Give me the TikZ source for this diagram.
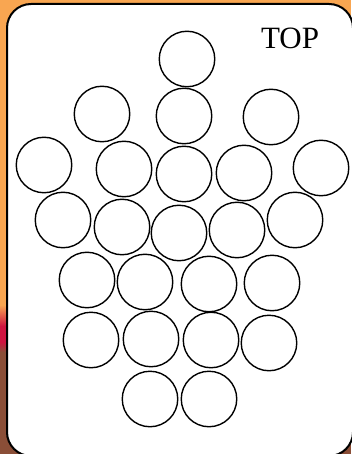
\documentclass[tikz,border=0pt]{standalone}
\usepackage{fontspec}
\setmainfont{Liberation Serif}
\usetikzlibrary{positioning}

\definecolor{bgorange}{HTML}{F9A651}
\definecolor{bgred}{HTML}{CF1440}
\definecolor{bgbrown}{HTML}{8A4E37}

\begin{document}
\begin{tikzpicture}[
  x=1pt, y=-1pt,
  card/.style={draw=black, fill=white, line width=2pt, rounded corners=24pt},
  hole/.style={circle, draw=black, line width=1.4pt, minimum size=55.5pt, inner sep=0pt},
  label/.style={font=\fontsize{31}{36}\selectfont, inner sep=0pt},
]
\useasboundingbox (0,0) rectangle (351,454);

% backdrop
\fill[bgorange] (0,0) rectangle (351,454);
\shade[top color=bgorange, bottom color=bgred] (0,305) rectangle (351,326);
\fill[bgred] (0,326) rectangle (351,342);
\shade[top color=bgred, bottom color=bgbrown] (0,342) rectangle (351,352);
\fill[bgbrown] (0,352) rectangle (351,454);

% the card
\draw[card] (7,4) rectangle (353,456);
\node[label] (top) at (290,38) {TOP};

% row 1
\node[hole] (c11) at (187,59) {};
% row 2
\node[hole] (c21) at (102,114) {};
\node[hole] (c22) at (184,116) {};
\node[hole] (c23) at (271,117) {};
% row 3
\node[hole] (c31) at (44,165) {};
\node[hole] (c32) at (124,169) {};
\node[hole] (c33) at (184,174) {};
\node[hole] (c34) at (244,173) {};
\node[hole] (c35) at (321,168) {};
% row 4
\node[hole] (c41) at (63,220) {};
\node[hole] (c42) at (122,227) {};
\node[hole] (c43) at (179,233) {};
\node[hole] (c44) at (237,230) {};
\node[hole] (c45) at (295,220) {};
% row 5
\node[hole] (c51) at (87,280) {};
\node[hole] (c52) at (145,282) {};
\node[hole] (c53) at (209,284) {};
\node[hole] (c54) at (272,283) {};
% row 6
\node[hole] (c61) at (91,340) {};
\node[hole] (c62) at (151,339) {};
\node[hole] (c63) at (211,340) {};
\node[hole] (c64) at (269,343) {};
% row 7
\node[hole] (c71) at (150,399) {};
\node[hole] (c72) at (209,399) {};

\end{tikzpicture}
\end{document}
